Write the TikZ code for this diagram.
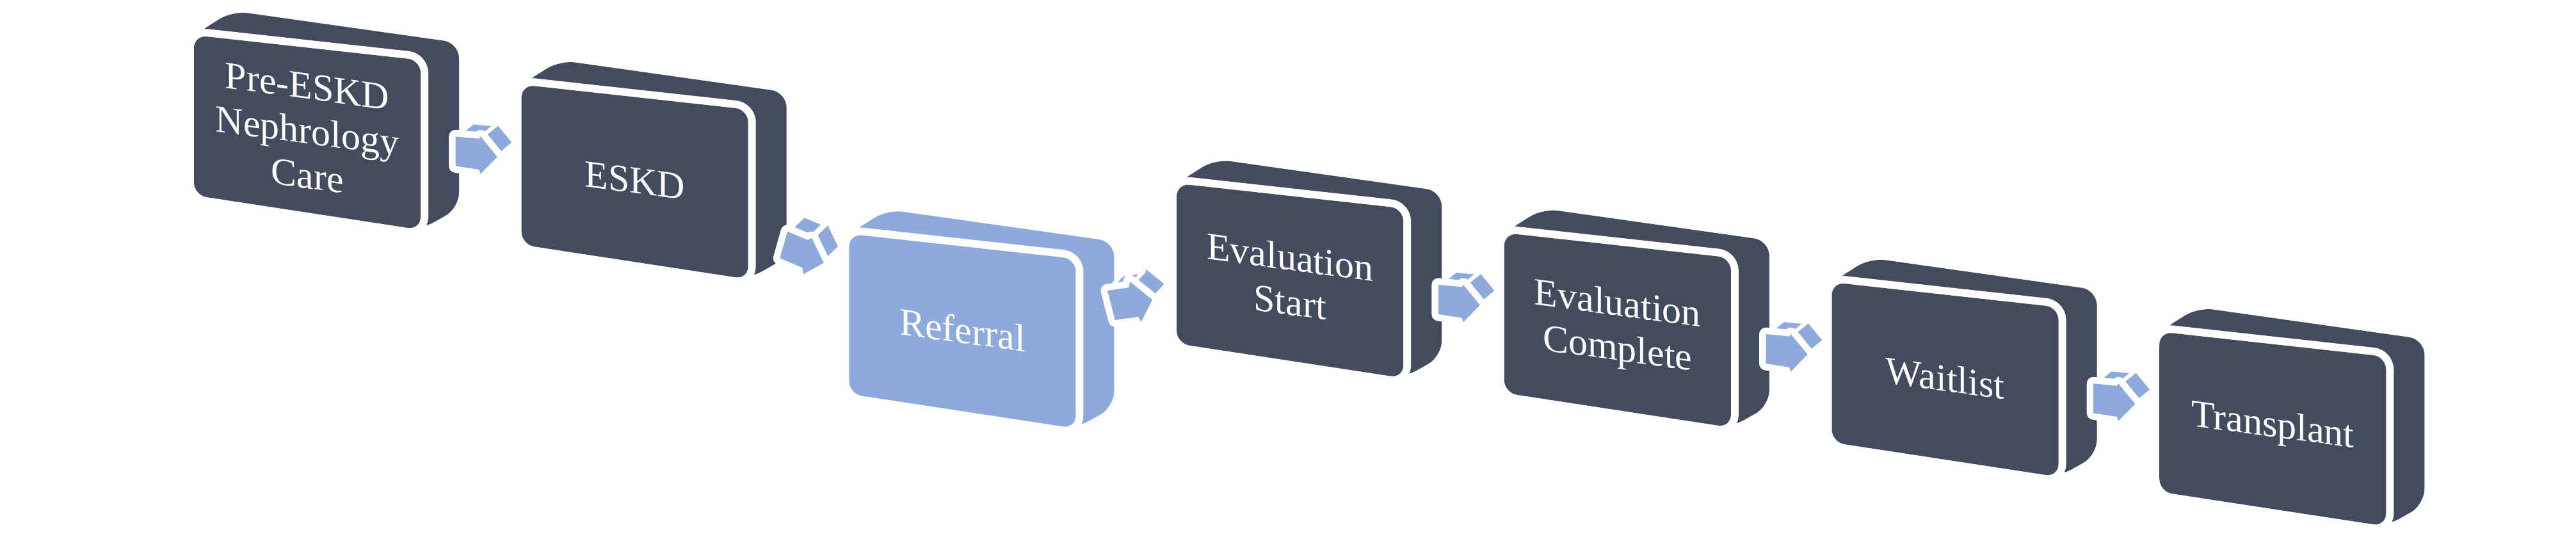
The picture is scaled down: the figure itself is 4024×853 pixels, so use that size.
\documentclass[tikz,border=0pt]{standalone}
\usepackage{fontspec}
\setmainfont{Liberation Serif}
\usetikzlibrary{calc}
\definecolor{slate}{RGB}{67,76,94}
\definecolor{arrblue}{RGB}{142,169,219}
\tikzset{
  boxtext/.style={text=white, align=center, font=\fontsize{15}{17.5}\selectfont, yslant=-0.135, inner sep=0pt},
  halo/.style={draw=white, fill=white, line join=round},
  arrface/.style={fill=arrblue, draw=white, line width=1.5pt, line join=round},
  arrhalo/.style={draw=white, fill=white, line join=round, line width=5.25pt},
}
% 3D block: #1 node name, #2 x, #3 y (front top-left corner), #4 colour, #5 text
\newcommand\tdbox[5]{%
  \begin{scope}[shift={(#2,#3)}]
    \fill[#4, rounded corners=6pt] (0,0) -- (60,-38) -- (414,12) -- (414,270) -- (354,304) -- (0,250) -- cycle;
    \path[halo, line width=6pt, rounded corners=5pt] (0,0) -- (354,39) -- (354,304) -- (0,250) -- cycle;
    \fill[#4, rounded corners=5pt] (0,0) -- (354,39) -- (354,304) -- (0,250) -- cycle;
    \begin{scope}[shift={(177,150)}]
      \node[boxtext] (#1) at (0,0) {#5};
    \end{scope}
  \end{scope}}
% 3D arrow from coordinates q1..q7, #1 = extrusion offset
\newcommand\arrowfaces[1]{%
  \foreach \a/\b in {q4/q5,q3/q4,q2/q3,q1/q2}{
    \filldraw[arrface] (\a) -- (\b) -- ($(\b)+(#1)$) -- ($(\a)+(#1)$) -- cycle;}
  \path[arrhalo] (q1) -- (q2) -- (q3) -- (q4) -- (q5) -- (q6) -- (q7) -- cycle;
  \fill[arrblue] (q1) -- (q2) -- (q3) -- (q4) -- (q5) -- (q6) -- (q7) -- cycle;}
% horizontal arrow anchored at the middle of its left edge
\newcommand\harrow[1]{%
  \coordinate (q1) at ($(#1)+(0,-23)$);
  \coordinate (q2) at ($(#1)+(36.6,-19.6)$);
  \coordinate (q3) at ($(#1)+(39,-23)$);
  \coordinate (q4) at ($(#1)+(65,8.7)$);
  \coordinate (q5) at ($(#1)+(39,35.4)$);
  \coordinate (q6) at ($(#1)+(36.6,28.7)$);
  \coordinate (q7) at ($(#1)+(0,23)$);
  \arrowfaces{27,-22}}
\begin{document}
\begin{tikzpicture}[x=0.25pt, y=-0.25pt]
\useasboundingbox (0,0) rectangle (4024,853);
\fill[white] (0,0) rectangle (4024,853);

\tdbox{n1}{303}{55}{slate}{Pre-ESKD\\Nephrology\\Care}
\coordinate (a1) at (711.7,236.3);
\harrow{a1}

\tdbox{n2}{814.7}{132.2}{slate}{ESKD}
% arrow ESKD -> Referral (tilted down)
\coordinate (q1) at (1230,361.7);
\coordinate (q2) at (1261.7,375);
\coordinate (q3) at (1268,372);
\coordinate (q4) at (1286.7,410.7);
\coordinate (q5) at (1255,428.3);
\coordinate (q6) at (1253.3,418.3);
\coordinate (q7) at (1218.3,403.3);
\arrowfaces{26,-25}

\tdbox{n3}{1326.4}{365.4}{arrblue}{Referral}
% arrow Referral -> Evaluation Start (tilted up)
\coordinate (q1) at (1730,454);
\coordinate (q2) at (1763.3,449.3);
\coordinate (q3) at (1765,440);
\coordinate (q4) at (1800,468.3);
\coordinate (q5) at (1782.7,502.7);
\coordinate (q6) at (1778.3,495);
\coordinate (q7) at (1741.7,500);
\arrowfaces{23,-25}

\tdbox{n4}{1838.1}{286.6}{slate}{Evaluation\\Start}
\coordinate (a4) at (2246.8,467.9);
\harrow{a4}

\tdbox{n5}{2349.8}{363.8}{slate}{Evaluation\\Complete}
\coordinate (a5) at (2758.5,545.1);
\harrow{a5}

\tdbox{n6}{2861.5}{441}{slate}{Waitlist}
\coordinate (a6) at (3270.2,622.3);
\harrow{a6}

\tdbox{n7}{3373.2}{518.2}{slate}{Transplant}
\end{tikzpicture}
\end{document}
